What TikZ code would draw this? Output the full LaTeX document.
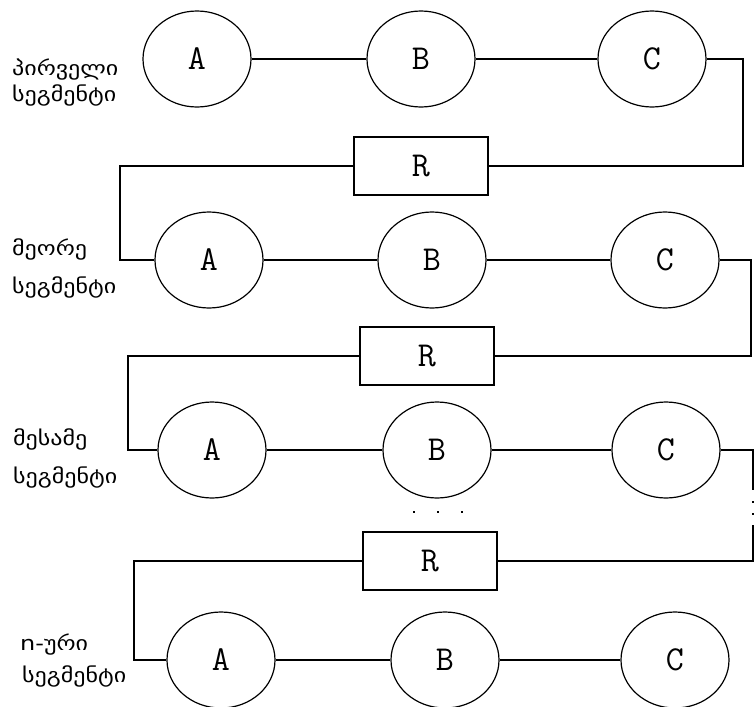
\documentclass[tikz,border=0pt]{standalone}
\usepackage{fontspec}
\usetikzlibrary{shapes.geometric}
\newfontfamily\geofont[FakeStretch=1.2]{DejaVu Sans}
\begin{document}
\begin{tikzpicture}[x=1pt,y=-1pt,
  unit/.style={draw, ellipse, line width=1.2pt, minimum width=108pt, minimum height=96pt,
    inner sep=0pt, font=\ttfamily\fontsize{35}{37}\selectfont},
  resistor/.style={draw, rectangle, line width=1.2pt, minimum width=134pt, minimum height=58pt,
    inner sep=0pt, font=\ttfamily\fontsize{35}{37}\selectfont},
  wire/.style={line width=1.2pt},
  seglabel/.style={anchor=base west, inner sep=0pt, font=\geofont\fontsize{20}{22}\selectfont},
  dotmark/.style={fill, inner sep=0pt, minimum size=2.8pt, rectangle}]
\useasboundingbox (0,0) rectangle (756,707);

% first segment
\node[unit] (a1) at (197,59) {A};
\node[unit] (b1) at (421,59) {B};
\node[unit] (c1) at (652,59) {C};
\node[resistor] (r1) at (421,166) {R};
% second segment
\node[unit] (a2) at (209,260) {A};
\node[unit] (b2) at (432,260) {B};
\node[unit] (c2) at (665,260) {C};
\node[resistor] (r2) at (427,356) {R};
% third segment
\node[unit] (a3) at (212,450) {A};
\node[unit] (b3) at (437,450) {B};
\node[unit] (c3) at (666,450) {C};
\node[resistor] (r3) at (430,561) {R};
% n-th segment
\node[unit] (a4) at (221,660) {A};
\node[unit] (b4) at (445,660) {B};
\node[unit] (c4) at (675,660) {C};

% labels
\node[seglabel] (l1a) at (12,75) {პირველი};
\node[seglabel] (l1b) at (12,101) {სეგმენტი};
\node[seglabel] (l2a) at (12,255) {მეორე};
\node[seglabel] (l2b) at (12,293) {სეგმენტი};
\node[seglabel] (l3a) at (13,445) {მესამე};
\node[seglabel] (l3b) at (13,483) {სეგმენტი};
\node[seglabel] (l4a) at (20,650) {n-ური};
\node[seglabel] (l4b) at (22,682) {სეგმენტი};

% connection points of the return wires
\coordinate (t1) at (743,0);
\coordinate (s1) at (120,0);
\coordinate (t2) at (751,0);
\coordinate (s2) at (128,0);
\coordinate (s3) at (134,0);
\coordinate (gapTop) at (753,490);
\coordinate (gapBot) at (753,527);

% wires inside the segments
\foreach \i in {1,2,3,4} {
  \draw[wire] (a\i) -- (b\i);
  \draw[wire] (b\i) -- (c\i);
}
% wires between segments
\draw[wire] (c1.east) -| (t1 |- r1.east) -- (r1.east);
\draw[wire] (r1.west) -| (s1 |- a2.west) -- (a2.west);
\draw[wire] (c2.east) -| (t2 |- r2.east) -- (r2.east);
\draw[wire] (r2.west) -| (s2 |- a3.west) -- (a3.west);
\draw[wire] (c3.east) -| (gapTop);
\draw[wire] (gapBot) |- (r3.east);
\draw[wire] (r3.west) -| (s3 |- a4.west) -- (a4.west);

% dots marking the omitted segments
\node[dotmark] (v1) at (753,502) {};
\node[dotmark] (v2) at (753,514) {};
\node[dotmark] (v3) at (753,526) {};
\node[dotmark, minimum size=2pt] (h1) at (414,512) {};
\node[dotmark, minimum size=2pt] (h2) at (438,512) {};
\node[dotmark, minimum size=2pt] (h3) at (462,512) {};
\end{tikzpicture}
\end{document}
